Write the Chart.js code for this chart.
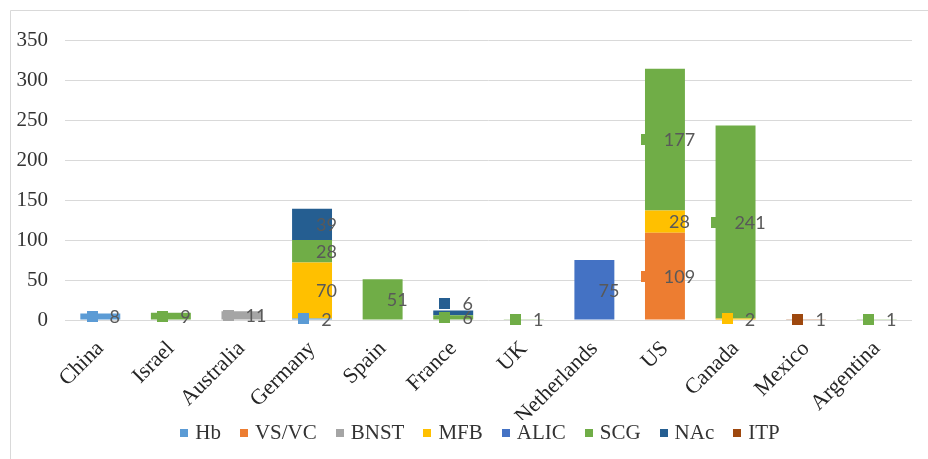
<!DOCTYPE html>
<html>
<head>
<meta charset="utf-8">
<script src="https://cdn.jsdelivr.net/npm/chart.js@4"></script>
<style>
  html, body { margin: 0; padding: 0; background: #ffffff; }
  #wrap { width: 928px; height: 459px; position: relative; }
</style>
</head>
<body>
<div id="wrap"><canvas id="c" width="928" height="459"></canvas></div>
<script>
const categories = ["China", "Israel", "Australia", "Germany", "Spain", "France", "UK", "Netherlands", "US", "Canada", "Mexico", "Argentina"];
const seriesNames = ["Hb", "VS/VC", "BNST", "MFB", "ALIC", "SCG", "NAc", "ITP"];
const seriesColors = ["#5B9BD5", "#ED7D31", "#A5A5A5", "#FFC000", "#4472C4", "#70AD47", "#255E91", "#9E480E"];
const hbValues    = [8, null, null, 2, null, null, null, null, null, null, null, null];
const vsvcValues  = [null, null, null, null, null, null, null, null, 109, null, null, null];
const bnstValues  = [null, null, 11, null, null, null, null, null, null, null, null, null];
const mfbValues   = [null, null, null, 70, null, null, null, null, 28, 2, null, null];
const alicValues  = [null, null, null, null, null, null, null, 75, null, null, null, null];
const scgValues   = [null, 9, null, 28, 51, 6, 1, null, 177, 241, null, 1];
const nacValues   = [null, null, null, 39, null, 6, null, null, null, null, null, null];
const itpValues   = [null, null, null, null, null, null, null, null, null, null, 1, null];
const yTicks = [0, 50, 100, 150, 200, 250, 300, 350];

const seriesValues = [hbValues, vsvcValues, bnstValues, mfbValues, alicValues, scgValues, nacValues, itpValues];

const SERIF = '"Liberation Serif", "Times New Roman", serif';
const SANS = 'Lato, "Open Sans", sans-serif';

const borderPlugin = {
  id: 'outerBorder',
  beforeDraw(chart) {
    const ctx = chart.ctx;
    ctx.save();
    ctx.fillStyle = '#ffffff';
    ctx.fillRect(0, 0, chart.width, chart.height);
    ctx.strokeStyle = '#d9d9d9';
    ctx.lineWidth = 1;
    ctx.beginPath();
    ctx.moveTo(10.5, chart.height);
    ctx.lineTo(10.5, 10.5);
    ctx.lineTo(chart.width, 10.5);
    ctx.stroke();
    ctx.restore();
  }
};

const labelPlugin = {
  id: 'keyLabels',
  afterDatasetsDraw(chart) {
    const ctx = chart.ctx;
    ctx.save();
    ctx.font = '18px ' + SANS;
    ctx.textBaseline = 'middle';
    ctx.textAlign = 'left';
    const keySize = 11, gap = 12;
    for (let i = 0; i < categories.length; i++) {
      let prevY = null;
      chart.data.datasets.forEach((ds, d) => {
        const v = ds.data[i];
        if (v === null || v === undefined) return;
        const el = chart.getDatasetMeta(d).data[i];
        let cy = (el.y + el.base) / 2;
        if (prevY !== null && cy > prevY - 14) cy = prevY - 14;
        prevY = cy;
        const txt = String(v);
        const tw = ctx.measureText(txt).width;
        const total = keySize + gap + tw;
        const left = el.x + 3 - total / 2;
        ctx.fillStyle = ds.backgroundColor;
        ctx.fillRect(Math.round(left), Math.round(cy - keySize / 2), keySize, keySize);
        ctx.fillStyle = '#595959';
        ctx.fillText(txt, left + keySize + gap, cy + 1);
      });
    }
    ctx.restore();
  }
};

const legendPlugin = {
  id: 'customLegend',
  afterDraw(chart) {
    const ctx = chart.ctx;
    ctx.save();
    ctx.font = '21px ' + SERIF;
    ctx.textBaseline = 'middle';
    ctx.textAlign = 'left';
    const box = 8, boxGap = 7, itemGap = 19, cy = 433;
    const items = chart.data.datasets.map(ds => ({ text: ds.label, color: ds.backgroundColor, w: ctx.measureText(ds.label).width }));
    let total = 0;
    items.forEach((it, k) => { total += box + boxGap + it.w + (k < items.length - 1 ? itemGap : 0); });
    let x = 480 - total / 2;
    items.forEach(it => {
      ctx.fillStyle = it.color;
      ctx.fillRect(Math.round(x), cy - box / 2, box, box);
      ctx.fillStyle = '#333333';
      ctx.fillText(it.text, x + box + boxGap, cy);
      x += box + boxGap + it.w + itemGap;
    });
    ctx.restore();
  }
};

const datasets = seriesNames.map((name, k) => ({
  label: name,
  data: seriesValues[k],
  backgroundColor: seriesColors[k],
  borderWidth: 0,
  categoryPercentage: 1.0,
  barPercentage: 0.566
}));

new Chart(document.getElementById('c'), {
  type: 'bar',
  data: { labels: categories, datasets: datasets },
  options: {
    responsive: false,
    animation: false,
    events: [],
    layout: { padding: { top: 40, right: 16, bottom: 39, left: 0 } },
    plugins: { legend: { display: false }, tooltip: { enabled: false } },
    scales: {
      x: {
        stacked: true,
        grid: { display: false, drawTicks: false },
        border: { display: false },
        ticks: {
          font: { family: SERIF, size: 22 },
          color: '#262626',
          maxRotation: 45,
          minRotation: 45,
          autoSkip: false,
          padding: 16
        },
        afterFit(scale) { scale.height = 100; }
      },
      y: {
        stacked: true,
        min: 0,
        max: 350,
        afterBuildTicks(scale) { scale.ticks = yTicks.map(v => ({ value: v })); },
        grid: { color: '#d9d9d9', lineWidth: 1, drawTicks: false },
        border: { display: false },
        ticks: {
          font: { family: SERIF, size: 21 },
          color: '#333333',
          padding: 17
        },
        afterFit(scale) { scale.width = 65; }
      }
    }
  },
  plugins: [borderPlugin, labelPlugin, legendPlugin]
});
</script>
</body>
</html>
